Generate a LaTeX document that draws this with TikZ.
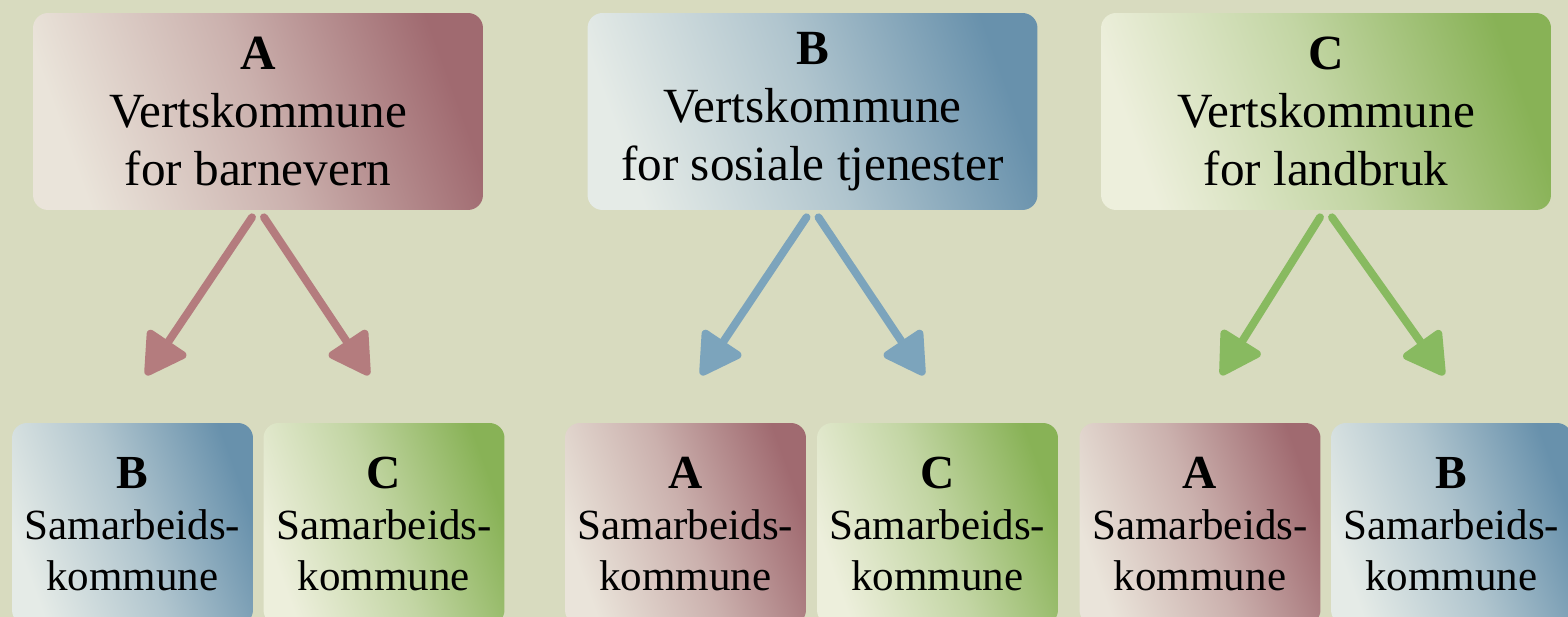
\documentclass[tikz,border=0pt]{standalone}
\usepackage{fontspec}
\setmainfont{Liberation Serif}
\usetikzlibrary{arrows.meta}

\definecolor{paper}{RGB}{216,219,191}
\definecolor{redlight}{RGB}{234,228,218}
\definecolor{reddark}{RGB}{160,106,112}
\definecolor{bluelight}{RGB}{229,235,231}
\definecolor{bluedark}{RGB}{104,145,172}
\definecolor{greenlight}{RGB}{237,239,220}
\definecolor{greendark}{RGB}{136,178,86}
\definecolor{redarrow}{RGB}{180,124,126}
\definecolor{bluearrow}{RGB}{124,164,188}
\definecolor{greenarrow}{RGB}{136,186,96}

\tikzset{
  hostbox/.style={rounded corners=0.3cm, minimum width=9cm, minimum height=3.94cm,
    align=center, inner sep=0pt, font=\fontsize{28}{33}\selectfont},
  partbox/.style={rounded corners=0.3cm, minimum width=4.82cm, minimum height=4.04cm,
    align=center, inner sep=0pt, font=\fontsize{24.5}{29}\selectfont},
  redfill/.style={top color=reddark, bottom color=redlight,
    middle color=redlight!58!reddark, shading angle=-70},
  bluefill/.style={top color=bluedark, bottom color=bluelight,
    middle color=bluelight!58!bluedark, shading angle=-70},
  greenfill/.style={top color=greendark, bottom color=greenlight,
    middle color=greenlight!58!greendark, shading angle=-70},
  pointer/.style={line width=4.5pt, line cap=round,
    -{Triangle[width=1.0cm, length=0.9cm, round]}},
}

\newcommand{\hostlabel}[2]{\textbf{#1}\\Vertskommune\\for #2}
\newcommand{\partlabel}[1]{{\fontsize{27}{29}\selectfont\bfseries #1}\\Samarbeids-\\kommune}

\begin{document}
\begin{tikzpicture}[x=0.02cm, y=-0.02cm]
  % Parameters definitions
  \def\hosty{111.5} % Y position of the host boxes
  \def\party{524}   % Y position of the partner boxes
  \def\tipy{375}    % Y position of the arrow tips

  % Paper
  \useasboundingbox (0,0) rectangle (1568,617);
  \clip (0,0) rectangle (1568,617);
  \fill[paper] (0,0) rectangle (1568,617);

  % Host boxes
  \node[hostbox, redfill]   (hostA) at (258,\hosty)    {\hostlabel{A}{barnevern}};
  \node[hostbox, bluefill]  (hostB) at (812.5,\hosty)  {\hostlabel{B}{sosiale tjenester}};
  \node[hostbox, greenfill] (hostC) at (1326,\hosty)   {\hostlabel{C}{landbruk}};

  % Partner boxes
  \node[partbox, bluefill]  (partAB) at (132.5,\party)  {\partlabel{B}};
  \node[partbox, greenfill] (partAC) at (384,\party)    {\partlabel{C}};
  \node[partbox, redfill]   (partBA) at (685.5,\party)  {\partlabel{A}};
  \node[partbox, greenfill] (partBC) at (937.5,\party)  {\partlabel{C}};
  \node[partbox, redfill]   (partCA) at (1200,\party)   {\partlabel{A}};
  \node[partbox, bluefill]  (partCB) at (1451.5,\party) {\partlabel{B}};

  % Arrow tips
  \coordinate[] (tipAl) at (146,\tipy);
  \coordinate[] (tipAr) at (369,\tipy);
  \coordinate[] (tipBl) at (701,\tipy);
  \coordinate[] (tipBr) at (924,\tipy);
  \coordinate[] (tipCl) at (1221,\tipy);
  \coordinate[] (tipCr) at (1444,\tipy);

  % Arrows
  \draw[pointer, redarrow]   ([xshift=-0.12cm, yshift=-0.14cm]hostA.south) -- (tipAl);
  \draw[pointer, redarrow]   ([xshift=0.12cm, yshift=-0.14cm]hostA.south) -- (tipAr);
  \draw[pointer, bluearrow]  ([xshift=-0.12cm, yshift=-0.14cm]hostB.south) -- (tipBl);
  \draw[pointer, bluearrow]  ([xshift=0.12cm, yshift=-0.14cm]hostB.south) -- (tipBr);
  \draw[pointer, greenarrow] ([xshift=-0.12cm, yshift=-0.14cm]hostC.south) -- (tipCl);
  \draw[pointer, greenarrow] ([xshift=0.12cm, yshift=-0.14cm]hostC.south) -- (tipCr);
\end{tikzpicture}
\end{document}
